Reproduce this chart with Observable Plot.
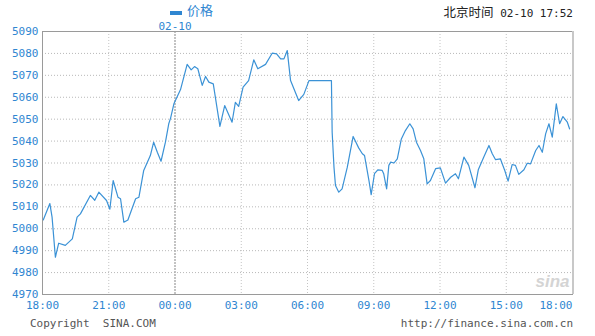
<!DOCTYPE html>
<html>
<head>
<meta charset="utf-8">
<script src="https://cdn.jsdelivr.net/npm/d3@7"></script>
<script src="https://cdn.jsdelivr.net/npm/@observablehq/plot@0.6"></script>
<style>
  html, body { margin: 0; padding: 0; background: #fff; }
  #wrap { position: relative; width: 595px; height: 336px; overflow: hidden; }
  #wrap svg { position: absolute; left: 0; top: 0; }
  .abs { position: absolute; white-space: pre; line-height: 1; }
  .mono { font-family: "DejaVu Sans Mono", "Liberation Mono", monospace; font-size: 11px; }
  .cjk { font-family: "Noto Sans CJK SC", "Noto Sans", sans-serif; }
</style>
</head>
<body>
<div id="wrap">
  <div class="abs" style="left:170px;top:11px;width:12px;height:4px;background:#2f86d1;"></div>
  <div class="abs cjk" style="left:187px;top:3px;font-size:13px;color:#2f86d1;">价格</div>
  <div class="abs" style="right:22px;top:4px;color:#222;"><span class="cjk" style="font-size:12.5px;">北京时间</span><span class="mono"> 02-10 17:52</span></div>
  <div class="abs mono" style="left:30px;top:318px;color:#555;">Copyright  SINA.COM</div>
  <div class="abs mono" style="right:22px;top:318px;color:#555;">http://finance.sina.com.cn</div>
</div>
<script>
// ---- data ----
const times = [
  "18:02","18:20","18:26","18:35","18:44","19:02","19:21","19:34","19:43","20:10",
  "20:22","20:33","20:54","21:03","21:12","21:25","21:32","21:41","21:52","22:13",
  "22:22","22:35","22:53","23:02","23:12","23:22","23:34","23:43","23:48","23:57",
  "00:15","00:33","00:44","00:53","01:02","01:14","01:23","01:32","01:44","02:02",
  "02:15","02:35","02:44","02:53","03:05","03:20","03:34","03:45","04:06","04:24",
  "04:36","04:47","04:56","05:05","05:14","05:36","05:50","06:04","07:05","07:07",
  "07:12","07:16","07:25","07:34","07:48","08:04","08:19","08:29","08:35","08:47",
  "08:53","09:02","09:11","09:23","09:27","09:35","09:41","09:46","09:55","10:04",
  "10:15","10:26","10:38","10:47","10:56","11:07","11:16","11:25","11:34","11:48",
  "12:01","12:15","12:29","12:42","12:50","13:05","13:18","13:35","13:44","13:59",
  "14:13","14:22","14:31","14:44","14:56","15:05","15:16","15:25","15:34","15:48",
  "15:57","16:06","16:20","16:29","16:38","16:47","16:56","17:05","17:16","17:25",
  "17:34","17:46","17:52"
];
const prices = [
  5004.0,5011.5,5005.3,4987.0,4993.4,4992.4,4995.4,5005.3,5006.8,5015.2,
  5013.0,5016.7,5012.9,5008.9,5022.0,5014.4,5013.7,5003.0,5004.0,5013.7,
  5014.4,5026.6,5033.4,5039.5,5034.9,5030.8,5039.5,5047.9,5050.5,5057.0,
  5063.5,5075.0,5072.5,5074.0,5073.0,5065.4,5069.5,5066.9,5066.1,5046.7,
  5056.2,5048.6,5057.7,5055.8,5064.6,5067.6,5077.1,5073.0,5075.0,5080.1,
  5079.8,5077.5,5077.5,5081.3,5067.6,5058.5,5061.3,5067.6,5067.6,5044.0,
  5028.0,5019.7,5016.7,5018.2,5028.0,5042.1,5036.9,5034.2,5033.4,5022.0,
  5015.6,5025.1,5026.9,5026.6,5025.1,5018.2,5028.9,5030.4,5030.0,5031.9,
  5041.0,5044.8,5047.9,5045.6,5039.5,5035.7,5031.9,5020.5,5022.0,5027.4,
  5027.8,5020.8,5023.5,5025.1,5022.8,5032.7,5028.9,5018.7,5026.9,5032.7,
  5038.0,5034.2,5031.5,5031.9,5026.6,5021.7,5029.3,5028.9,5024.8,5026.9,
  5029.9,5029.6,5035.7,5038.0,5034.9,5043.3,5047.9,5041.8,5057.0,5047.9,
  5051.2,5048.6,5045.6
];
const yTicks = [4970,4980,4990,5000,5010,5020,5030,5040,5050,5060,5070,5080,5090];
const xTickLabels = ["18:00","21:00","00:00","03:00","06:00","09:00","12:00","15:00","18:00"];
const dateLabel = "02-10";

// ---- build table ----
function toDate(hm, dayAfter) {
  const [h, m] = hm.split(":").map(Number);
  return new Date(Date.UTC(2025, 1, dayAfter ? 10 : 9, h, m));
}
const data = times.map((t, i) => ({ t: toDate(t, +t.slice(0, 2) < 18), p: prices[i] }));
const xTicks = xTickLabels.map((t, i) => toDate(t, i > 0 && +t.slice(0, 2) < 18 || i === xTickLabels.length - 1));
const start = xTicks[0], end = xTicks[xTicks.length - 1], midnight = xTicks[2];

const blue = "#2f86d1";
const mono = "DejaVu Sans Mono, Liberation Mono, monospace";

const chart = Plot.plot({
  width: 595,
  height: 336,
  marginLeft: 42,
  marginRight: 23,
  marginTop: 31,
  marginBottom: 42,
  x: { type: "utc", domain: [start, end], axis: null },
  y: { domain: [4970, 5090], axis: null },
  style: { background: "transparent", overflow: "visible" },
  marks: [
    Plot.ruleY(yTicks.slice(1, -1), { stroke: "#b8b8b8", strokeDasharray: "1,2" }),
    Plot.ruleX(xTicks.slice(1, -1).filter(d => +d !== +midnight), { stroke: "#c4c4c4", strokeDasharray: "1,2" }),
    Plot.ruleX([midnight], { stroke: "#b0b0b0", strokeWidth: 1.5, strokeDasharray: "2,1" }),
    Plot.text(["sina"], { frameAnchor: "bottom-right", dx: -3, dy: -8, text: d => d, fill: "#d4d4d4", fontSize: 17, fontWeight: "bold", fontStyle: "italic", fontFamily: "Liberation Sans, sans-serif" }),
    Plot.line(data, { x: "t", y: "p", stroke: "#3b92d6", strokeWidth: 1.2 }),
    Plot.frame({ stroke: "#9a9a9a" }),
    Plot.ruleX([end], { stroke: "#c8c8c8", strokeWidth: 2, dx: 0.5 }),
    Plot.text(yTicks, { y: d => d, frameAnchor: "left", dx: -4, textAnchor: "end", text: d => String(d), fill: blue, fontFamily: mono, fontSize: 11 }),
    Plot.text(xTicks.slice(0, -1), { x: d => d, frameAnchor: "bottom", dy: 14, text: (d, i) => xTickLabels[i], fill: blue, fontFamily: mono, fontSize: 11 }),
    Plot.text([end], { x: d => d, frameAnchor: "bottom", dy: 14, textAnchor: "end", text: () => xTickLabels[xTickLabels.length - 1], fill: blue, fontFamily: mono, fontSize: 11 }),
    Plot.text([midnight], { x: d => d, frameAnchor: "top", dy: -9, text: () => dateLabel, fill: blue, fontFamily: mono, fontSize: 11 })
  ]
});
document.getElementById("wrap").prepend(chart);
</script>
</body>
</html>
